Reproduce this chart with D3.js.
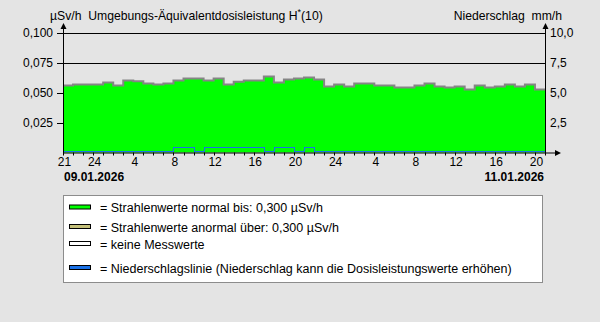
<!DOCTYPE html>
<html>
<head>
<meta charset="utf-8">
<script src="https://cdn.jsdelivr.net/npm/d3@7"></script>
<style>
  body { margin: 0; background: #e4e4e4; }
  svg { display: block; font-family: "Liberation Sans", Arial, sans-serif; }
  svg text { white-space: pre; }
</style>
</head>
<body>
<div id="chart"></div>
<script>
// Data - hourly values from 09.01.2026 21:00 to 11.01.2026 21:00
const hourLabels = [21, 24, 4, 8, 12, 16, 20, 24, 4, 8, 12, 16, 20]
const hourLabelPos = [0, 3, 7, 11, 15, 19, 23, 27, 31, 35, 39, 43, 47]
const doseValues = [
    0.0558, 0.0567, 0.0567, 0.0567, 0.0583, 0.0558, 0.0600, 0.0594,
    0.0575, 0.0567, 0.0575, 0.0600, 0.0617, 0.0617, 0.0600, 0.0617,
    0.0567, 0.0590, 0.0600, 0.0600, 0.0633, 0.0583, 0.0608, 0.0617,
    0.0625, 0.0608, 0.0550, 0.0567, 0.0550, 0.0575, 0.0575, 0.0558,
    0.0558, 0.0542, 0.0542, 0.0558, 0.0575, 0.0550, 0.0542, 0.0550,
    0.0525, 0.0558, 0.0542, 0.0550, 0.0567, 0.0550, 0.0567, 0.0525
]
const rainValues = [
    0, 0, 0, 0, 0, 0, 0, 0, 0, 0, 0, 0.3,
    0.3, 0, 0.3, 0.3, 0.3, 0.3, 0.3, 0.3, 0, 0.3, 0.3, 0,
    0.3, 0, 0, 0, 0, 0, 0, 0, 0, 0, 0, 0,
    0, 0, 0, 0, 0, 0, 0, 0, 0, 0, 0, 0
]
const doseTicks = [0.025, 0.05, 0.075, 0.1]
const rainTicks = [2.5, 5, 7.5, 10]
const startDate = '09.01.2026'
const endDate = '11.01.2026'
const legendItems = [
    {label: '= Strahlenwerte normal bis: 0,300 µSv/h', color: '#00ff00'},
    {label: '= Strahlenwerte anormal über: 0,300 µSv/h', color: '#c4c07a'},
    {label: '= keine Messwerte', color: '#ffffff'},
    {label: '= Niederschlagslinie (Niederschlag kann die Dosisleistungswerte erhöhen)', color: '#1a72e8'}
]

// Constants - dimensions
const width = 600
const height = 322
const plot = {left: 63, right: 545, top: 32.5, bottom: 152.5}

const svg = d3.select('#chart')
    .append('svg')
    .attr('width', width)
    .attr('height', height)

svg.append('rect')
    .attr('width', width)
    .attr('height', height)
    .attr('fill', '#e4e4e4')

// Scales
const x = d3.scaleLinear()
    .domain([0, doseValues.length])
    .range([plot.left, plot.right])
const y = d3.scaleLinear()
    .domain([0, 0.1])
    .range([plot.bottom, plot.top])
const yRain = d3.scaleLinear()
    .domain([0, 10])
    .range([plot.bottom, plot.top])

const fmt = d3.format('.3f')
const fmtRain = d3.format('.1f')

// Grid lines (behind area)
svg.append('g')
    .selectAll('line')
    .data(doseTicks)
    .join('line')
    .attr('x1', plot.left - 6)
    .attr('x2', plot.right)
    .attr('y1', d => Math.round(y(d)) + 0.5)
    .attr('y2', d => Math.round(y(d)) + 0.5)
    .attr('stroke', '#000')

// Area data: step-after, last value repeated to the end
const stepData = doseValues.map((v, i) => [i, v]).concat([[doseValues.length, doseValues[doseValues.length - 1]]])

svg.append('path')
    .datum(stepData)
    .attr('fill', '#00ff00')
    .attr('d', d3.area()
        .curve(d3.curveStepAfter)
        .x(d => x(d[0]))
        .y0(y(0))
        .y1(d => y(d[1])))

svg.append('path')
    .datum(stepData)
    .attr('fill', 'none')
    .attr('stroke', '#858585')
    .attr('stroke-width', 2)
    .attr('d', d3.line()
        .curve(d3.curveStepAfter)
        .x(d => x(d[0]))
        .y(d => y(d[1])))

// Precipitation line
const rainData = rainValues.map((v, i) => [i, v]).concat([[rainValues.length, rainValues[rainValues.length - 1]]])
svg.append('path')
    .datum(rainData)
    .attr('fill', 'none')
    .attr('stroke', '#1a72e8')
    .attr('stroke-width', 1)
    .attr('shape-rendering', 'crispEdges')
    .attr('d', d3.line()
        .curve(d3.curveStepAfter)
        .x(d => Math.round(x(d[0])) + 0.5)
        .y(d => Math.round(yRain(d[1]) - 1) - 0.5))

// Axes lines with arrows
const axes = svg.append('g').attr('stroke', '#000').attr('fill', 'none')
axes.append('line')
    .attr('x1', plot.left + 0.5).attr('x2', plot.left + 0.5)
    .attr('y1', plot.bottom + 1).attr('y2', 25)
axes.append('line')
    .attr('x1', plot.right + 0.5).attr('x2', plot.right + 0.5)
    .attr('y1', plot.bottom + 1).attr('y2', 25)
axes.append('line')
    .attr('x1', plot.left).attr('x2', 558)
    .attr('y1', plot.bottom + 0.5).attr('y2', plot.bottom + 0.5)

const arrows = svg.append('g').attr('fill', '#000')
arrows.append('path').attr('d', `M${plot.left + 0.5},23 l-3,6 l6,0 z`)
arrows.append('path').attr('d', `M${plot.right + 0.5},23 l-3,6 l6,0 z`)
arrows.append('path').attr('d', `M561,${plot.bottom + 0.5} l-6,-3 l0,6 z`)

// Hour ticks on x axis
svg.append('g')
    .selectAll('line')
    .data(d3.range(0, doseValues.length + 1))
    .join('line')
    .attr('x1', d => Math.round(x(d)) + 0.5)
    .attr('x2', d => Math.round(x(d)) + 0.5)
    .attr('y1', plot.bottom)
    .attr('y2', plot.bottom + 3)
    .attr('stroke', '#000')

// Tick labels
const textStyle = sel => sel.attr('font-size', 12).attr('fill', '#000')

svg.append('g')
    .selectAll('text')
    .data(hourLabels)
    .join('text')
    .call(textStyle)
    .attr('x', (d, i) => x(hourLabelPos[i]) + 1.5)
    .attr('y', 166)
    .attr('text-anchor', 'middle')
    .text(d => d)

svg.append('g')
    .selectAll('text')
    .data(doseTicks)
    .join('text')
    .call(textStyle)
    .attr('x', 53)
    .attr('y', d => y(d) + 4.5)
    .attr('text-anchor', 'end')
    .text(d => fmt(d).replace('.', ','))

svg.append('g')
    .selectAll('text')
    .data(rainTicks)
    .join('text')
    .call(textStyle)
    .attr('x', 550)
    .attr('y', d => yRain(d) + 4.5)
    .text(d => fmtRain(d).replace('.', ','))

// Dates
svg.append('text').call(textStyle)
    .attr('x', 64).attr('y', 181)
    .attr('font-weight', 'bold')
    .text(startDate)
svg.append('text').call(textStyle)
    .attr('x', 544).attr('y', 181)
    .attr('font-weight', 'bold')
    .attr('text-anchor', 'end')
    .text(endDate)

// Titles
const title = svg.append('text').call(textStyle)
    .attr('x', 50).attr('y', 20)
    .attr('font-size', 12.2)
title.append('tspan').text('µSv/h  Umgebungs-Äquivalentdosisleistung H')
title.append('tspan').attr('font-size', 9).attr('dy', -5).text('*')
title.append('tspan').attr('dy', 5).text('(10)')

svg.append('text').call(textStyle)
    .attr('x', 562).attr('y', 20)
    .attr('font-size', 12.2)
    .attr('text-anchor', 'end')
    .text('Niederschlag  mm/h')

// Legend
const legend = svg.append('g')
legend.append('rect')
    .attr('x', 63.5).attr('y', 195.5)
    .attr('width', 479).attr('height', 87)
    .attr('fill', '#fff')
    .attr('stroke', '#8c8c8c')

const legendRows = [207.5, 227, 244, 268]
const rows = legend.selectAll('g.item')
    .data(legendItems)
    .join('g')
    .attr('class', 'item')
    .attr('transform', (d, i) => `translate(0, ${legendRows[i]})`)
rows.append('rect')
    .attr('x', 69.5).attr('y', -2.5)
    .attr('width', 21).attr('height', 4)
    .attr('fill', d => d.color)
    .attr('stroke', '#000')
rows.append('text').call(textStyle)
    .attr('x', 100).attr('y', 4.5)
    .attr('font-size', 12.5)
    .text(d => d.label)
</script>
</body>
</html>
